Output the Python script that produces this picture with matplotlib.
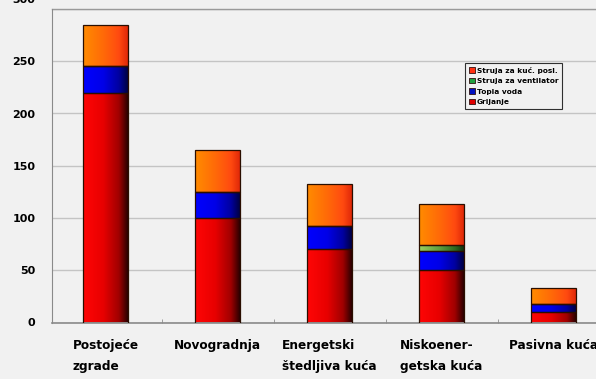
import numpy as np
import matplotlib
matplotlib.use("Agg")
import matplotlib.pyplot as plt
import matplotlib.transforms as mtransforms
from matplotlib.colors import LinearSegmentedColormap
from matplotlib.patches import Patch

plt.rcParams['font.family'] = ['DejaVu Sans']

categories = ["Postojeće\nzgrade", "Novogradnja", "Energetski\nštedljiva kuća",
              "Niskoener-\ngetska kuća", "Pasivna kuća"]
grijanje = [220, 100, 70, 50, 10]
topla_voda = [25, 25, 22, 18, 8]
ventilator = [0, 0, 0, 6, 0]
struja_kucanstvo = [40, 40, 41, 39, 15]
yticks = [0, 50, 100, 150, 200, 250, 300]

series = [
    ("Grijanje", grijanje, ["#ff0606", "#e80000", "#a00000", "#2a0000"], "#e00000"),
    ("Topla voda", topla_voda, ["#0000ff", "#0000e8", "#0000a0", "#000040"], "#0010c0"),
    ("Struja za ventilator", ventilator, ["#9ad060", "#60a040", "#2c6a20", "#103010"], "#20a040"),
    ("Struja za kuć. posl.", struja_kucanstvo, ["#ff8c00", "#ff6a08", "#ff4a10", "#e02808"], "#ff3010"),
]

W, H, DPI = 596, 379, 100
fig = plt.figure(figsize=(W / DPI, H / DPI), dpi=DPI, facecolor="#f1f1f1")
ax = fig.add_axes([52 / W, (H - 322.5) / H, (609.5 - 52) / W, (322.5 - 9) / H])
ax.set_facecolor("#f1f1f1")

x = np.arange(len(categories))
width = 0.40
bottom = np.zeros(len(categories))
grad = np.linspace(0, 1, 256).reshape(1, -1)
legend_handles = []
for name, vals, stops, swatch in series:
    vals = np.array(vals, dtype=float)
    cmap = LinearSegmentedColormap.from_list(name, list(zip([0, 0.45, 0.8, 1.0], stops)))
    bars = ax.bar(x, vals, width, bottom=bottom, color="none",
                  edgecolor="#2a0e00", linewidth=0.9, zorder=4)
    for b, v in zip(bars, vals):
        if v <= 0:
            continue
        x0, y0 = b.get_x(), b.get_y()
        im = ax.imshow(grad, cmap=cmap, aspect="auto", zorder=3,
                       extent=[x0, x0 + b.get_width(), y0, y0 + b.get_height()],
                       interpolation="bilinear")
        im.set_clip_path(b)
    bottom += vals
    legend_handles.append(Patch(facecolor=swatch, edgecolor="#301010", linewidth=0.6, label=name))

ax.set_xlim(-0.478, 4.5)
ax.set_ylim(0, 300)
ax.set_yticks(yticks)
ax.set_yticklabels([str(t) for t in yticks], fontsize=8, fontweight="bold")
ax.yaxis.grid(True, color="#c4c4c4", linewidth=1.0, zorder=0)
ax.set_axisbelow(True)
ax.tick_params(axis="y", length=0, pad=12)
# the top value label sits a little higher than the others
top_label = ax.get_yticklabels()[-1]
top_label.set_transform(top_label.get_transform() +
                        mtransforms.ScaledTranslation(0, 0.10, fig.dpi_scale_trans))

ax.set_xticks(x)
ax.set_xticklabels(categories, fontsize=8.7, fontweight="bold", multialignment="left",
                   linespacing=1.75)
ax.tick_params(axis="x", length=0, pad=12)
ax.set_xticks(np.arange(len(categories) - 1) + 0.5, minor=True)
ax.tick_params(axis="x", which="minor", length=3, color="#909090", direction="in")

for s in ["top", "right"]:
    ax.spines[s].set_visible(False)
ax.spines["left"].set_color("#8a8a8a")
ax.spines["bottom"].set_color("#8a8a8a")
ax.spines["bottom"].set_linewidth(1.2)

# thin line along the top edge of the plot area
ax.axhline(300, color="#9a9a9a", linewidth=1.0, zorder=1, clip_on=False)

leg = ax.legend(handles=legend_handles[::-1], loc="upper left",
                bbox_to_anchor=((465 - 52) / (609.5 - 52), (322.5 - 63) / (322.5 - 9)),
                fontsize=5.3, frameon=True, fancybox=False, handlelength=0.8,
                handleheight=0.8, handletextpad=0.3, labelspacing=0.55,
                borderpad=0.5, borderaxespad=0)
leg.get_frame().set_edgecolor("#000000")
leg.get_frame().set_linewidth(0.8)
leg.get_frame().set_facecolor("#f1f1f1")
for t in leg.get_texts():
    t.set_fontweight("bold")

fig.savefig("out.png", dpi=DPI, facecolor=fig.get_facecolor())
